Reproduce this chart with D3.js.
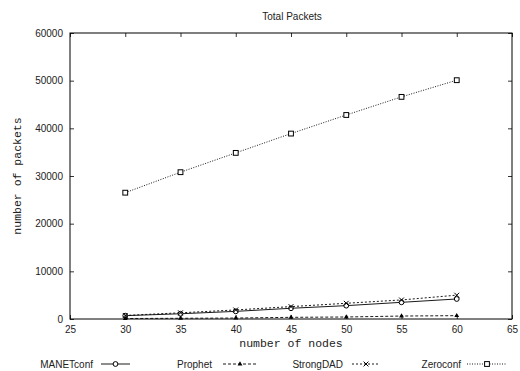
<!DOCTYPE html>
<html>
<head>
<meta charset="utf-8">
<script src="https://cdn.jsdelivr.net/npm/d3@7"></script>
<style>
  body { margin: 0; background: #fff; }
  svg text { fill: #222; }
</style>
</head>
<body>
<div id="chart"></div>
<script>
// data
var nodes = [30, 35, 40, 45, 50, 55, 60];
var manetconf = [700, 1100, 1600, 2250, 2800, 3500, 4200];
var prophet = [100, 150, 200, 350, 420, 620, 700];
var strongdad = [750, 1300, 1900, 2600, 3300, 4000, 5000];
var zeroconf = [26500, 30800, 34850, 38900, 42800, 46600, 50100];
var xTicks = [25, 30, 35, 40, 45, 50, 55, 60, 65];
var yTicks = [0, 10000, 20000, 30000, 40000, 50000, 60000];

var series = [
  { name: "MANETconf", values: manetconf, dash: null, marker: "circle" },
  { name: "Prophet", values: prophet, dash: "3,2", marker: "triangle" },
  { name: "StrongDAD", values: strongdad, dash: "2,2", marker: "cross" },
  { name: "Zeroconf", values: zeroconf, dash: "1,1.5", marker: "square" }
];

var W = 520, H = 371;
var margin = { top: 33, right: 8, bottom: 52, left: 70 },
  width = W - margin.left - margin.right,
  height = H - margin.top - margin.bottom;

var svg = d3.select("#chart").append("svg")
  .attr("width", W).attr("height", H)
  .style("font-family", "'Liberation Sans', Arial, sans-serif");

var g = svg.append("g")
  .attr("transform", "translate(" + margin.left + "," + margin.top + ")");

var x = d3.scaleLinear().domain([25, 65]).range([0, width]);
var y = d3.scaleLinear().domain([0, 60000]).range([height, 0]);
var fmt = d3.format("d");

// axes with inward ticks, mirrored on top/right
function styleAxis(sel) {
  sel.select(".domain").remove();
  sel.selectAll(".tick line").attr("stroke", "#000").attr("stroke-width", 0.8);
  sel.selectAll("text").attr("font-size", "10px").attr("fill", "#222");
}

g.append("g")
  .attr("transform", "translate(0," + height + ")")
  .call(d3.axisBottom(x).tickValues(xTicks).tickSizeInner(-4).tickSizeOuter(0).tickPadding(7).tickFormat(fmt))
  .call(styleAxis);

g.append("g")
  .call(d3.axisTop(x).tickValues(xTicks).tickSizeInner(-4).tickSizeOuter(0).tickFormat(""))
  .call(styleAxis);

g.append("g")
  .call(d3.axisLeft(y).tickValues(yTicks).tickSizeInner(-4).tickSizeOuter(0).tickPadding(7).tickFormat(fmt))
  .call(styleAxis);

g.append("g")
  .attr("transform", "translate(" + width + ",0)")
  .call(d3.axisRight(y).tickValues(yTicks).tickSizeInner(-4).tickSizeOuter(0).tickFormat(""))
  .call(styleAxis);

g.append("rect")
  .attr("width", width).attr("height", height)
  .attr("fill", "none").attr("stroke", "#000").attr("stroke-width", 1);

// titles
svg.append("text")
  .attr("x", margin.left + width / 2 + 1).attr("y", 20)
  .attr("text-anchor", "middle").attr("font-size", "10px")
  .text("Total Packets");

svg.append("text")
  .attr("x", margin.left + width / 2).attr("y", 347)
  .attr("text-anchor", "middle").attr("font-size", "11.5px")
  .style("font-family", "'Liberation Mono', 'DejaVu Sans Mono', monospace")
  .text("number of nodes");

svg.append("text")
  .attr("transform", "translate(21," + (margin.top + height / 2) + ") rotate(-90)")
  .attr("text-anchor", "middle").attr("font-size", "11.5px")
  .style("font-family", "'Liberation Mono', 'DejaVu Sans Mono', monospace")
  .text("number of packets");

// markers
function drawMarker(sel, type, px, py) {
  if (type === "circle") {
    sel.append("circle").attr("cx", px).attr("cy", py).attr("r", 2.4)
      .attr("fill", "#fff").attr("stroke", "#000").attr("stroke-width", 1);
  } else if (type === "triangle") {
    sel.append("path")
      .attr("d", d3.symbol().type(d3.symbolTriangle).size(10)())
      .attr("transform", "translate(" + px + "," + py + ")")
      .attr("fill", "#000");
  } else if (type === "cross") {
    sel.append("path")
      .attr("d", "M-2.4,-2.4L2.4,2.4M-2.4,2.4L2.4,-2.4")
      .attr("transform", "translate(" + px + "," + py + ")")
      .attr("stroke", "#000").attr("stroke-width", 1);
  } else {
    sel.append("rect").attr("x", px - 2.4).attr("y", py - 2.4)
      .attr("width", 4.8).attr("height", 4.8)
      .attr("fill", "#fff").attr("stroke", "#000").attr("stroke-width", 1);
  }
}

var line = d3.line()
  .x(function (d, i) { return x(nodes[i]); })
  .y(function (d) { return y(d); });

series.forEach(function (s) {
  var sg = g.append("g");
  sg.append("path")
    .datum(s.values)
    .attr("d", line)
    .attr("fill", "none")
    .attr("stroke", "#000")
    .attr("stroke-width", 0.9)
    .attr("stroke-dasharray", s.dash);
  s.values.forEach(function (v, i) {
    drawMarker(sg, s.marker, x(nodes[i]), y(v));
  });
});

// legend along the bottom: text right edge, sample start and end
var legendPos = [[93, 101, 130], [212, 223, 257], [343, 352, 380], [461, 467, 507]];
var leg = svg.append("g");
series.forEach(function (s, i) {
  var p = legendPos[i], ly = 364;
  leg.append("text")
    .attr("x", p[0]).attr("y", ly + 3.5)
    .attr("text-anchor", "end").attr("font-size", "10px")
    .text(s.name);
  leg.append("line")
    .attr("x1", p[1]).attr("x2", p[2])
    .attr("y1", ly).attr("y2", ly)
    .attr("stroke", "#000").attr("stroke-width", 0.9)
    .attr("stroke-dasharray", s.dash);
  drawMarker(leg, s.marker, (p[1] + p[2]) / 2, ly);
});
</script>
</body>
</html>
